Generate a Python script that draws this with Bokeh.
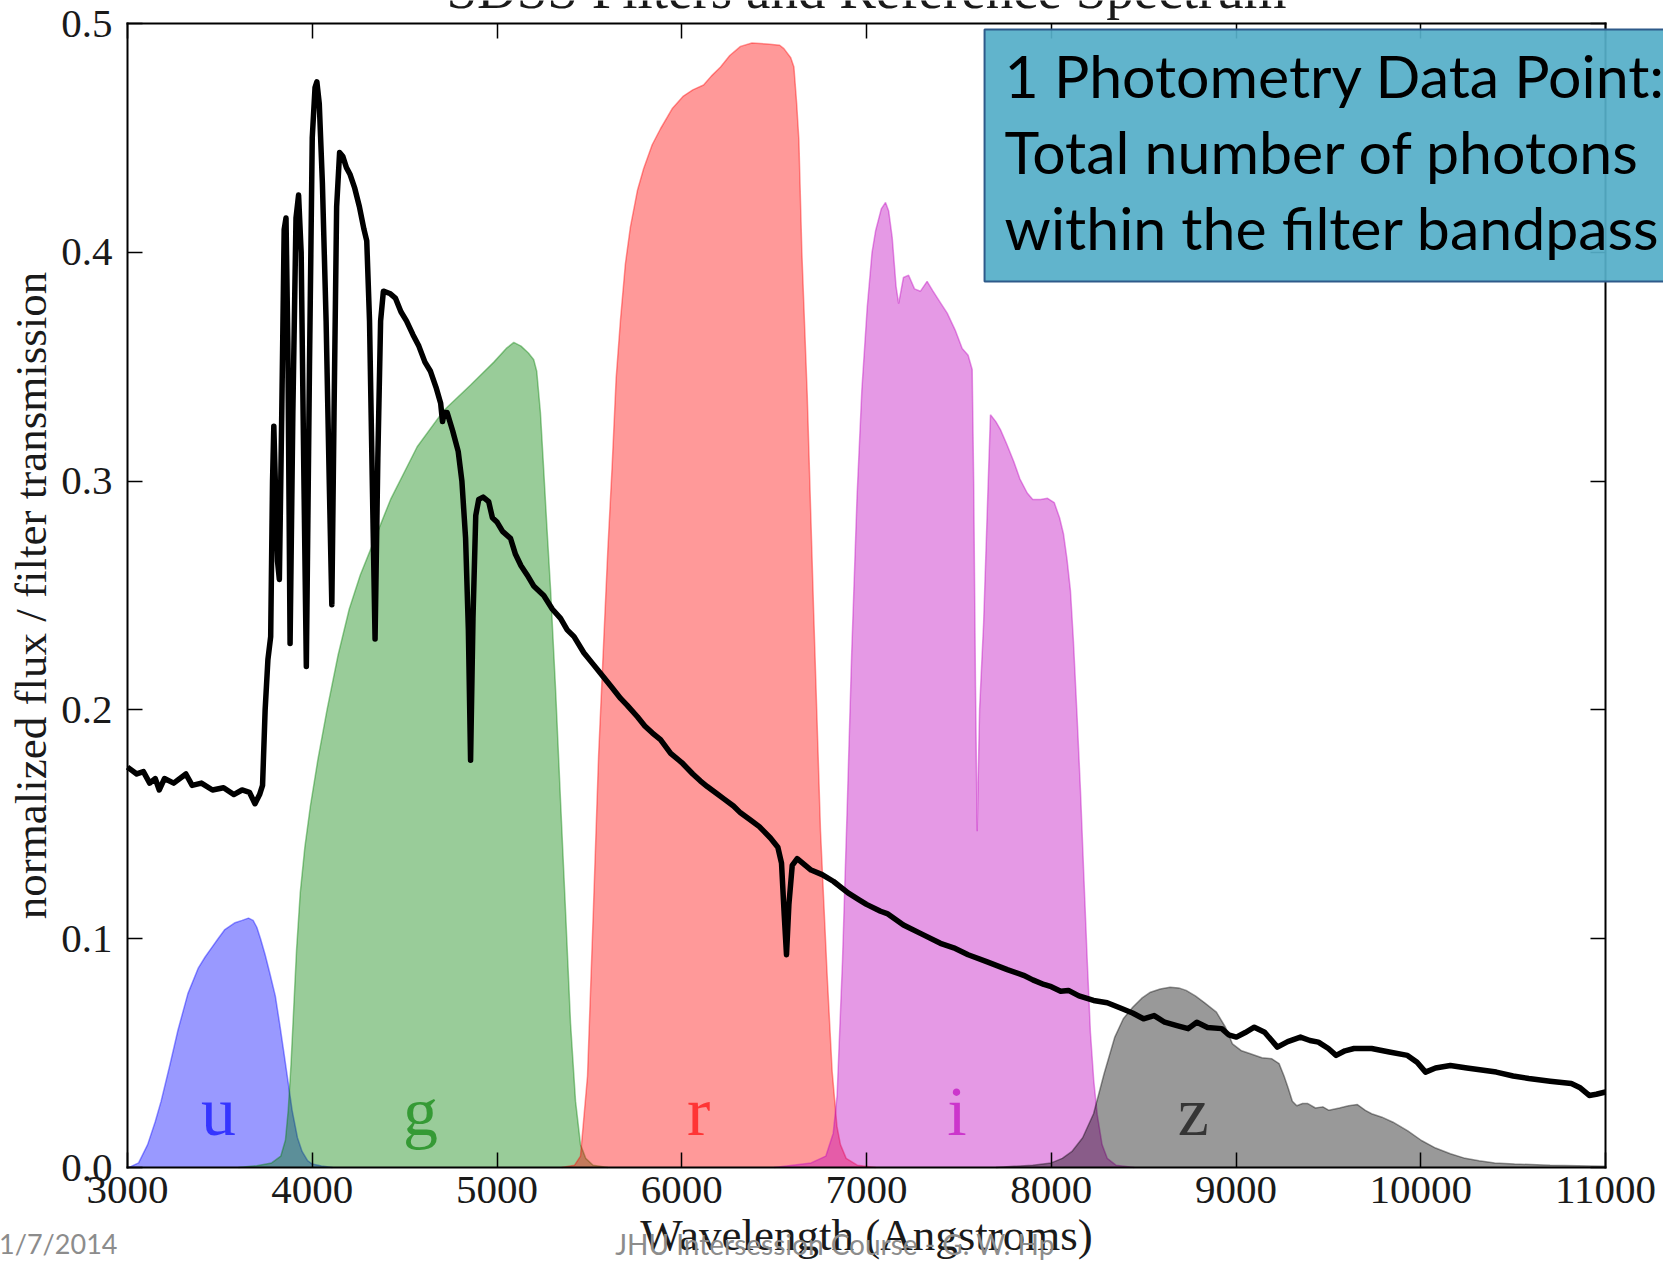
import math
from bokeh.plotting import figure
from bokeh.models import Range1d, FixedTicker, LinearAxis, Label, PrintfTickFormatter
from bokeh.embed import file_html
from bokeh.resources import INLINE

# ---------------- data ----------------
spec_wl = [3000, 3050, 3086, 3120, 3150, 3172, 3200, 3250, 3316, 3350, 3400, 3460, 3520, 3575,
           3620, 3660, 3690, 3715, 3731, 3745, 3760, 3775, 3785, 3792, 3800, 3812, 3822, 3835,
           3848, 3858, 3868, 3880, 3895, 3912, 3926, 3940, 3955, 3968, 3985, 4000, 4015, 4025,
           4038, 4055, 4075, 4092, 4106, 4118, 4132, 4148, 4165, 4185, 4205, 4230, 4255, 4280,
           4295, 4310, 4325, 4340, 4355, 4370, 4385, 4420, 4450, 4480, 4510, 4545, 4577, 4610,
           4640, 4670, 4695, 4705, 4715, 4730, 4760, 4790, 4810, 4830, 4845, 4857, 4870, 4885,
           4901, 4925, 4955, 4975, 5001, 5030, 5073, 5100, 5130, 5163, 5200, 5253, 5300, 5344,
           5380, 5417, 5470, 5520, 5560, 5620, 5669, 5705, 5760, 5800, 5840, 5885, 5940, 6000,
           6060, 6100, 6138, 6180, 6230, 6280, 6318, 6370, 6420, 6480, 6520, 6540, 6555, 6567,
           6580, 6598, 6625, 6700, 6760, 6822, 6900, 6960, 7000, 7076, 7112, 7200, 7300, 7400,
           7472, 7550, 7650, 7762, 7850, 7900, 7960, 8000, 8051, 8093, 8150, 8229, 8303, 8381,
           8440, 8499, 8557, 8614, 8680, 8741, 8788, 8846, 8923, 8960, 9002, 9050, 9099, 9155,
           9224, 9280, 9349, 9400, 9446, 9500, 9542, 9590, 9639, 9734, 9830, 9928, 9980, 10026,
           10080, 10160, 10250, 10409, 10500, 10585, 10700, 10815, 10860, 10912, 10950, 11000]
spec_flux = [0.175, 0.172, 0.173, 0.168, 0.170, 0.165, 0.170, 0.168, 0.172, 0.167, 0.168, 0.165,
             0.166, 0.163, 0.165, 0.164, 0.159, 0.163, 0.167, 0.200, 0.222, 0.232, 0.300, 0.324,
             0.300, 0.265, 0.257, 0.330, 0.410, 0.415, 0.360, 0.229, 0.330, 0.415, 0.425, 0.400,
             0.300, 0.219, 0.350, 0.450, 0.472, 0.4745, 0.465, 0.430, 0.370, 0.300, 0.246, 0.330,
             0.420, 0.4436, 0.442, 0.437, 0.434, 0.428, 0.420, 0.410, 0.405, 0.370, 0.300, 0.231,
             0.310, 0.370, 0.383, 0.382, 0.380, 0.374, 0.370, 0.364, 0.359, 0.352, 0.348, 0.341,
             0.334, 0.326, 0.330, 0.330, 0.322, 0.313, 0.300, 0.275, 0.235, 0.178, 0.240, 0.285,
             0.292, 0.293, 0.291, 0.284, 0.282, 0.278, 0.275, 0.268, 0.263, 0.259, 0.254, 0.250,
             0.244, 0.240, 0.235, 0.232, 0.225, 0.220, 0.216, 0.210, 0.205, 0.202, 0.197, 0.193,
             0.190, 0.187, 0.181, 0.177, 0.172, 0.169, 0.1665, 0.164, 0.161, 0.158, 0.155, 0.152,
             0.149, 0.144, 0.140, 0.133, 0.110, 0.093, 0.115, 0.132, 0.135, 0.130, 0.128, 0.125,
             0.120, 0.117, 0.115, 0.112, 0.111, 0.106, 0.102, 0.098, 0.096, 0.093, 0.090, 0.0865,
             0.084, 0.082, 0.080, 0.079, 0.077, 0.0774, 0.075, 0.073, 0.072, 0.0695, 0.0675, 0.065,
             0.0664, 0.0635, 0.062, 0.0607, 0.0635, 0.0612, 0.0607, 0.058, 0.057, 0.059, 0.0613,
             0.0591, 0.0526, 0.055, 0.057, 0.0555, 0.0548, 0.052, 0.049, 0.051, 0.052, 0.052,
             0.0505, 0.049, 0.046, 0.0417, 0.0435, 0.0446, 0.0435, 0.0417, 0.040, 0.0389, 0.0377,
             0.0367, 0.035, 0.0315, 0.032, 0.033]

u_wl = [3000, 3020, 3060, 3109, 3150, 3182, 3230, 3273, 3327, 3382, 3420, 3455, 3490, 3527, 3582,
        3620, 3655, 3680, 3700, 3720, 3745, 3770, 3800, 3825, 3845, 3870, 3891, 3920, 3945, 3975,
        4000, 4050, 4110]
u_tr = [0.0, 0.0005, 0.002, 0.010, 0.020, 0.029, 0.045, 0.060, 0.076, 0.087, 0.092, 0.096, 0.100,
        0.104, 0.107, 0.108, 0.109, 0.108, 0.105, 0.100, 0.093, 0.085, 0.075, 0.062, 0.051, 0.037,
        0.025, 0.013, 0.007, 0.003, 0.0015, 0.0007, 0.0]

g_wl = [3600, 3700, 3780, 3830, 3855, 3870, 3885, 3900, 3915, 3935, 3960, 3990, 4030, 4080, 4140,
        4200, 4260, 4330, 4424, 4568, 4713, 4857, 4983, 5050, 5091, 5130, 5170, 5199, 5215, 5235,
        5252, 5270, 5290, 5317, 5344, 5371, 5398, 5425, 5452, 5480, 5520, 5600]
g_tr = [0.0, 0.0008, 0.002, 0.005, 0.012, 0.025, 0.045, 0.070, 0.095, 0.120, 0.140, 0.158, 0.178,
        0.200, 0.224, 0.244, 0.259, 0.273, 0.292, 0.315, 0.331, 0.342, 0.352, 0.358, 0.3606,
        0.359, 0.356, 0.353, 0.348, 0.330, 0.306, 0.280, 0.2526, 0.209, 0.160, 0.112, 0.063, 0.029,
        0.010, 0.004, 0.001, 0.0]

r_wl = [5350, 5420, 5452, 5490, 5522, 5550, 5576, 5600, 5623, 5645, 5668, 5695, 5722, 5760, 5794,
        5840, 5885, 5950, 6009, 6060, 6118, 6160, 6210, 6260, 6318, 6380, 6462, 6530, 6553, 6590,
        6607, 6622, 6634, 6650, 6679, 6714, 6751, 6787, 6814, 6840, 6859, 6890, 6950, 7050]
r_tr = [0.0, 0.001, 0.005, 0.040, 0.113, 0.180, 0.227, 0.270, 0.306, 0.345, 0.370, 0.395, 0.411,
        0.427, 0.4366, 0.447, 0.454, 0.463, 0.4683, 0.471, 0.4731, 0.477, 0.481, 0.486, 0.490,
        0.4915, 0.491, 0.4905, 0.489, 0.485, 0.481, 0.465, 0.449, 0.400, 0.338, 0.2425, 0.147,
        0.084, 0.042, 0.018, 0.010, 0.004, 0.001, 0.0]

i_wl = [6500, 6600, 6700, 6780, 6820, 6841, 6870, 6895, 6920, 6949, 6975, 7004, 7030, 7049, 7080,
        7103, 7120, 7139, 7160, 7174, 7200, 7228, 7260, 7292, 7328, 7360, 7400, 7437, 7480, 7518,
        7550, 7572, 7580, 7590, 7599, 7612, 7634, 7655, 7671, 7700, 7725, 7760, 7797, 7830, 7870,
        7900, 7942, 7980, 8016, 8045, 8066, 8085, 8104, 8120, 8140, 8158, 8176, 8195, 8212, 8230,
        8249, 8275, 8303, 8350, 8450]
i_tr = [0.0, 0.001, 0.002, 0.005, 0.015, 0.0315, 0.090, 0.1556, 0.225, 0.2934, 0.340, 0.376, 0.400,
        0.4093, 0.419, 0.4218, 0.418, 0.4065, 0.385, 0.3776, 0.389, 0.390, 0.384, 0.383, 0.3873,
        0.383, 0.378, 0.3734, 0.366, 0.358, 0.355, 0.3488, 0.300, 0.210, 0.147, 0.200, 0.238,
        0.290, 0.329, 0.326, 0.3225, 0.316, 0.3086, 0.301, 0.2948, 0.292, 0.292, 0.2925, 0.2906,
        0.284, 0.277, 0.266, 0.252, 0.230, 0.1968, 0.165, 0.128, 0.090, 0.059, 0.038, 0.023,
        0.010, 0.004, 0.001, 0.0]

z_wl = [7700, 7800, 7900, 8000, 8060, 8112, 8170, 8229, 8286, 8344, 8390, 8441, 8490, 8537, 8590,
        8643, 8690, 8730, 8780, 8827, 8894, 8943, 8981, 9030, 9078, 9140, 9194, 9233, 9260, 9281,
        9305, 9329, 9360, 9387, 9430, 9470, 9503, 9560, 9610, 9657, 9700, 9734, 9790, 9850, 9930,
        10004, 10080, 10160, 10240, 10315, 10400, 10508, 10700, 11000]
z_tr = [0.0, 0.0005, 0.001, 0.002, 0.004, 0.007, 0.013, 0.0235, 0.041, 0.057, 0.065, 0.070, 0.074,
        0.0766, 0.078, 0.0788, 0.0785, 0.0774, 0.075, 0.0722, 0.0679, 0.0613, 0.054, 0.051, 0.0497,
        0.048, 0.0475, 0.0454, 0.040, 0.0351, 0.029, 0.027, 0.028, 0.028, 0.026, 0.0265, 0.025,
        0.026, 0.027, 0.0275, 0.025, 0.0235, 0.022, 0.0198, 0.016, 0.0118, 0.0085, 0.006, 0.004,
        0.003, 0.002, 0.0015, 0.001, 0.0005]

filter_names = ["u", "g", "r", "i", "z"]
filter_colors = ["#0000ff", "#008000", "#ff0000", "#bf00bf", "#000000"]
filter_label_wl = [3493, 4586, 6091, 7490, 8769]
x_ticks = [3000, 4000, 5000, 6000, 7000, 8000, 9000, 10000, 11000]
y_ticks = [0.0, 0.1, 0.2, 0.3, 0.4, 0.5]

title_text = "SDSS Filters and Reference Spectrum"
x_label = "Wavelength (Angstroms)"
y_label = "normalized flux / filter transmission"
box_text = "1 Photometry Data Point:\nTotal number of photons\nwithin the filter bandpass"
footer_date = "1/7/2014"
footer_course = "JHU Intersession Course - G. W. Hp"

# ---------------- figure ----------------
SERIF = "Liberation Serif"
SANS = "Lato"

# the canvas shows a little space around the axes box: extend ranges so that
# the axes box (3000..11000, 0..0.5) sits where it does in the slide
PX_PER_A = 1478.0 / (x_ticks[-1] - x_ticks[0])      # pixels per Angstrom
PX_PER_V = 1144.0 / (y_ticks[-1] - y_ticks[0])      # pixels per flux unit
x_lo = x_ticks[0] - 127 / PX_PER_A
x_hi = x_ticks[-1] + 58 / PX_PER_A
y_lo = y_ticks[0] - 94 / PX_PER_V
y_hi = y_ticks[-1] + 23 / PX_PER_V

p = figure(width=1663, height=1261, output_backend="svg", toolbar_location=None,
           x_range=Range1d(x_lo, x_hi), y_range=Range1d(y_lo, y_hi), min_border=0)
p.background_fill_color = "white"
p.border_fill_color = "white"
p.outline_line_color = None
p.grid.visible = False


def style_axis(ax, ticks, fmt, show_labels, standoff, loc, bounds):
    ax.fixed_location = loc
    ax.bounds = bounds
    ax.ticker = FixedTicker(ticks=ticks)
    ax.formatter = PrintfTickFormatter(format=fmt)
    ax.major_tick_in = 15
    ax.major_tick_out = 0
    ax.minor_tick_in = 0
    ax.minor_tick_out = 0
    ax.major_tick_line_color = "black"
    ax.major_tick_line_width = 1.5
    ax.axis_line_color = "black"
    ax.axis_line_width = 2
    ax.axis_line_cap = "square"
    ax.major_label_standoff = standoff
    if show_labels:
        ax.major_label_text_font = SERIF
        ax.major_label_text_font_size = "41px"
        ax.major_label_text_color = "#1a1a1a"
    else:
        ax.major_label_text_color = None


xb = (x_ticks[0], x_ticks[-1])
yb = (y_ticks[0], y_ticks[-1])
style_axis(p.xaxis[0], x_ticks, "%d", True, 9, y_ticks[0], xb)
style_axis(p.yaxis[0], y_ticks, "%.1f", True, 15, x_ticks[0], yb)

top_ax = LinearAxis()
style_axis(top_ax, x_ticks, "%d", False, 0, y_ticks[-1], xb)
p.add_layout(top_ax, "above")
right_ax = LinearAxis()
style_axis(right_ax, y_ticks, "%.1f", False, 0, x_ticks[-1], yb)
p.add_layout(right_ax, "right")

# filters
filters_wl = [u_wl, g_wl, r_wl, i_wl, z_wl]
filters_tr = [u_tr, g_tr, r_tr, i_tr, z_tr]
for wl, tr, c in zip(filters_wl, filters_tr, filter_colors):
    p.varea(x=wl, y1=[0] * len(wl), y2=tr, fill_color=c, fill_alpha=0.4)
    p.line(wl, tr, line_color=c, line_alpha=0.4, line_width=1.5)

# spectrum
p.line(spec_wl, spec_flux, line_color="black", line_width=5.5, line_join="round")

# filter letters
for name, c, lw in zip(filter_names, filter_colors, filter_label_wl):
    p.add_layout(Label(x=lw, y=0.0245, text=name, text_align="center",
                       text_baseline="middle", text_font=SERIF,
                       text_font_size="70px", text_color=c, text_alpha=0.65))

# title / axis labels
p.add_layout(Label(x=7000, y=0.5150, text=title_text, text_align="center",
                   text_baseline="middle", text_font=SERIF, text_font_size="55px",
                   text_color="#1a1a1a"))
p.add_layout(Label(x=7000, y=-0.0297, text=x_label, text_align="center",
                   text_baseline="middle", text_font=SERIF, text_font_size="45px",
                   text_color="#1a1a1a"))
p.add_layout(Label(x=2480, y=0.25, text=y_label, text_align="center", angle=math.pi / 2,
                   text_baseline="middle", text_font=SERIF, text_font_size="45px",
                   text_color="#1a1a1a"))

# text box
p.add_layout(Label(x=7639, y=0.4974, text=box_text, text_align="left", text_baseline="top",
                   text_font=SANS, text_font_size="59px", text_color="black",
                   text_line_height=1.07,
                   background_fill_color="#55aec8", background_fill_alpha=0.93,
                   border_line_color="#2e5a8a", border_line_width=2,
                   padding=dict(left=20, right=60, top=11, bottom=18)))

# footers
p.add_layout(Label(x=2305, y=-0.0334, text=footer_date, text_align="left",
                   text_baseline="middle", text_font=SANS, text_font_size="27px",
                   text_color="#8c8c8c"))
p.add_layout(Label(x=5640, y=-0.0334, text=footer_course, text_align="left",
                   text_baseline="middle", text_font=SANS, text_font_size="28px",
                   text_color="#8c8c8c"))

open("out.html", "w").write(file_html(p, INLINE))
